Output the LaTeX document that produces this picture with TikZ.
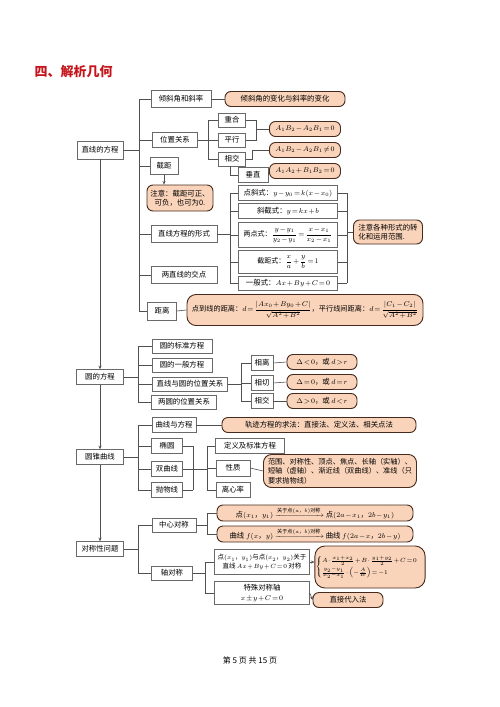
\documentclass[tikz,border=0pt]{standalone}
\usepackage{amsmath}
\usepackage{fontspec}
\usepackage{xcolor}
\usepackage{tikz}
\usetikzlibrary{arrows.meta}
\newfontfamily\cjk{Noto Sans CJK SC}
\newcommand\tightmath{\thinmuskip=1.5mu\medmuskip=1.5mu plus 1mu\thickmuskip=2mu}
\newcommand\mapfont{\cjk\fontsize{7.4}{9.4}\selectfont\tightmath}
\definecolor{titleRed}{RGB}{196,22,28}
\definecolor{boxLine}{RGB}{105,105,105}
\definecolor{linkGray}{RGB}{80,80,80}
\definecolor{noteFill}{RGB}{250,212,186}
\definecolor{noteLine}{RGB}{70,42,30}

\begin{document}
\begin{tikzpicture}[x=1pt, y=-1pt,
  box/.style={draw=boxLine, line width=0.5pt, fill=white, font=\mapfont,
    inner sep=1.5pt, minimum height=14pt},
  note/.style={draw=noteLine, line width=0.9pt, fill=noteFill, rounded corners=6pt,
    font=\mapfont, inner sep=1.5pt, minimum height=15pt},
  link/.style={draw=linkGray, line width=0.6pt},
  tip/.style={-{Stealth[length=3.5pt,width=3pt]}}]
\useasboundingbox (0,0) rectangle (500,707);

% Header
\node[anchor=west, font=\cjk\bfseries\fontsize{13}{15}\selectfont, text=titleRed]
    (title) at (31,72) {四、解析几何};

% Straight lines
\node[box, minimum width=46pt, minimum height=18pt] (line) at (100,150) {直线的方程};
\node[box, minimum width=60pt, minimum height=17pt] (tilt) at (181,99) {倾斜角和斜率};
\node[note, minimum width=120pt] (tiltNote) at (285,99) {倾斜角的变化与斜率的变化};
\node[box, minimum width=45pt, minimum height=15pt] (pos) at (175,140) {位置关系};
\node[box, minimum width=27pt] (coin) at (232,120) {重合};
\node[box, minimum width=27pt] (para) at (232,140) {平行};
\node[box, minimum width=27pt] (inter) at (232,159) {相交};
\node[box, minimum width=30pt, minimum height=15pt] (perp) at (253,175) {垂直};
\node[note, minimum width=71pt] (eq1) at (305,129) {$A_1B_2-A_2B_1=0$};
\node[note, minimum width=71pt] (eq2) at (305,150) {$A_1B_2-A_2B_1\neq0$};
\node[note, minimum width=71pt] (eq3) at (305,171) {$A_1A_2+B_1B_2=0$};
\node[box, minimum width=28pt, minimum height=17pt] (icpt) at (164,166) {截距};
\node[note, minimum width=66pt, minimum height=26pt, align=center] (icptNote) at (180,198)
    {注意：截距可正、\\可负，也可为0.};
\node[box, minimum width=66pt, minimum height=17pt] (form) at (184,234) {直线方程的形式};
\node[box, minimum width=99pt, minimum height=15pt] (f1) at (288,193) {点斜式：$y-y_0=k(x-x_0)$};
\node[box, minimum width=99pt, minimum height=15pt] (f2) at (288,211) {斜截式：$y=kx+b$};
\node[box, minimum width=99pt, minimum height=25pt, inner sep=0.5pt,
    font=\cjk\fontsize{7}{8}\selectfont\tightmath] (f3) at (288,235)
    {两点式：$\dfrac{y-y_1}{y_2-y_1}=\dfrac{x-x_1}{x_2-x_1}$};
\node[box, minimum width=99pt, minimum height=23pt, inner sep=0.5pt,
    font=\cjk\fontsize{7}{8}\selectfont\tightmath] (f4) at (288,262)
    {截距式：$\dfrac{x}{a}+\dfrac{y}{b}=1$};
\node[box, minimum width=99pt, minimum height=14pt] (f5) at (288,283) {一般式：$Ax+By+C=0$};
\node[note, minimum width=69pt, minimum height=24pt, align=left] (formNote) at (388,232)
    {注意各种形式的转\\化和运用范围.};
\node[box, minimum width=66pt, minimum height=17pt] (cross) at (184,275) {两直线的交点};
\node[box, minimum width=29pt, minimum height=18pt] (dist) at (162,311) {距离};
\node[note, minimum width=236pt, minimum height=31pt, rounded corners=9pt,
    font=\cjk\fontsize{7.2}{9}\selectfont\tightmath] (distNote) at (305,310)
    {点到线的距离：$d=\dfrac{|Ax_0+By_0+C|}{\sqrt{A^2+B^2}}$，平行线间距离：$d=\dfrac{|C_1-C_2|}{\sqrt{A^2+B^2}}$};

\coordinate (lineBus) at (139,150);
\draw[link] (line.east) -- (lineBus);
\draw[link] (lineBus |- tilt.west) -- (lineBus |- dist.west);
\foreach \n in {tilt,pos,icpt,form,cross,dist}
  \draw[link] (lineBus |- \n.west) -- (\n.west);
\draw[link] (tilt.east) -- (tiltNote.west);
\coordinate (posBus) at (208,140);
\draw[link] (pos.east) -- (posBus);
\draw[link] (posBus |- coin.west) -- (posBus |- inter.west);
\foreach \n in {coin,para,inter}
  \draw[link] (posBus |- \n.west) -- (\n.west);
\coordinate (pairBus) at (256,129);
\draw[link] (coin.east) -- (pairBus |- coin.east) -- (pairBus |- para.east) -- (para.east);
\draw[link] (pairBus |- eq1.west) -- (eq1.west);
\draw[link] (inter.east) -- ++(7,0) |- (eq2.west);
\draw[link] ([xshift=-2pt]inter.south) |- (perp.west);
\draw[link] (perp.east) -- (eq3.west);
\draw[link, tip] (icpt.south) -- (icpt.south |- icptNote.north);
\coordinate (formBus) at (230,234);
\draw[link] (form.east) -- (formBus);
\draw[link] (formBus |- f1.west) -- (formBus |- f5.west);
\coordinate (formOut) at (347,232);
\draw[link] (formOut |- f1.east) -- (formOut |- f5.east);
\foreach \n in {f1,f2,f3,f4,f5} {
  \draw[link] (formBus |- \n.west) -- (\n.west);
  \draw[link] (\n.east) -- (formOut |- \n.east);
}
\draw[link] (formOut) -- (formNote.west);
\draw[link] (dist.east) -- (distNote.west);

% Circles
\node[box, minimum width=47pt, minimum height=15pt] (circle) at (100,377) {圆的方程};
\node[box, minimum width=60pt] (std) at (182,346) {圆的标准方程};
\node[box, minimum width=60pt] (gen) at (182,365) {圆的一般方程};
\node[box, minimum width=75pt] (lc) at (190,384) {直线与圆的位置关系};
\node[box, minimum width=65pt] (cc) at (184,402) {两圆的位置关系};
\node[box, minimum width=22pt, minimum height=15pt] (sep) at (262,363) {相离};
\node[box, minimum width=22pt, minimum height=15pt] (tan) at (262,383) {相切};
\node[box, minimum width=22pt, minimum height=15pt] (sec) at (262,401) {相交};
\node[note, minimum width=70pt] (sepNote) at (322,362) {$\Delta<0$，或 $d>r$};
\node[note, minimum width=70pt] (tanNote) at (322,382) {$\Delta=0$，或 $d=r$};
\node[note, minimum width=70pt] (secNote) at (322,401) {$\Delta>0$，或 $d<r$};

\coordinate (circBus) at (138,377);
\draw[link] (circle.east) -- (circBus);
\draw[link] (circBus |- std.west) -- (circBus |- cc.west);
\foreach \n in {std,gen,lc,cc}
  \draw[link] (circBus |- \n.west) -- (\n.west);
\coordinate (lcBus) at (241,384);
\draw[link] (lc.east) -- (lcBus);
\draw[link] (lcBus |- sep.west) -- (lcBus |- sec.west);
\foreach \n in {sep,tan,sec} {
  \draw[link] (lcBus |- \n.west) -- (\n.west);
  \draw[link] (\n.east) -- (\n Note.west);
}

% Conics
\node[box, minimum width=47pt, minimum height=15pt] (conic) at (100,457) {圆锥曲线};
\node[box, minimum width=44pt, minimum height=15pt] (curve) at (174,425) {曲线与方程};
\node[box, minimum width=31pt, minimum height=15pt] (ellipse) at (167,446) {椭圆};
\node[box, minimum width=31pt, minimum height=15pt] (hyper) at (167,469) {双曲线};
\node[box, minimum width=31pt, minimum height=15pt] (parab) at (167,490) {抛物线};
\node[note, minimum width=194pt] (curveNote) at (319,425) {轨迹方程的求法：直接法、定义法、相关点法};
\node[box, minimum width=69pt, minimum height=15pt] (def) at (250,446) {定义及标准方程};
\node[box, minimum width=34pt, minimum height=16pt] (prop) at (233,468) {性质};
\node[box, minimum width=34pt, minimum height=15pt] (ecc) at (233,490) {离心率};
\node[note, minimum width=153pt, minimum height=33pt, align=left, rounded corners=8pt,
    font=\cjk\fontsize{7.2}{9.6}\selectfont] (propNote) at (340,471)
    {范围、对称性、顶点、焦点、长轴（实轴）、\\短轴（虚轴）、渐近线（双曲线）、准线（只\\要求抛物线）};

\coordinate (conicBus) at (138,457);
\draw[link] (conic.east) -- (conicBus);
\draw[link] (conicBus |- curve.west) -- (conicBus |- parab.west);
\foreach \n in {curve,ellipse,hyper,parab}
  \draw[link] (conicBus |- \n.west) -- (\n.west);
\draw[link] (curve.east) -- (curveNote.west);
\coordinate (conicOut) at (193,469);
\draw[link] (conicOut |- ellipse.east) -- (conicOut |- parab.east);
\foreach \n in {ellipse,hyper,parab}
  \draw[link] (\n.east) -- (conicOut |- \n.east);
\coordinate (propBus) at (207,469);
\draw[link] (conicOut) -- (propBus);
\draw[link] (propBus |- def.west) -- (propBus |- ecc.west);
\foreach \n in {def,prop,ecc}
  \draw[link] (propBus |- \n.west) -- (\n.west);
\draw[link] (prop.east) -- (propNote.west);

% Symmetry
\node[box, minimum width=47pt, minimum height=15pt] (sym) at (100,549) {对称性问题};
\node[box, minimum width=44pt] (central) at (174,525) {中心对称};
\node[box, minimum width=41pt] (axial) at (172,573) {轴对称};
\node[note, minimum width=196pt, minimum height=16pt] (cn1) at (315,513)
    {点$(x_1$，$y_1)$ $\xrightarrow{\text{关于点$(a$，$b)$对称}}$ 点$(2a-x_1$，$2b-y_1)$};
\node[note, minimum width=196pt, minimum height=16pt] (cn2) at (315,534)
    {曲线 $f(x$，$y)$ $\xrightarrow{\text{关于点$(a$，$b)$对称}}$ 曲线 $f(2a-x$，$2b-y)$};
\node[box, minimum width=95pt, minimum height=25pt, align=center, inner xsep=1pt,
    font=\cjk\fontsize{6.5}{8.6}\selectfont\tightmath] (ax1) at (262,562)
    {点$(x_1$，$y_1)$与点$(x_2$，$y_2)$关于\\直线 $Ax+By+C=0$ 对称};
\node[box, minimum width=95pt, minimum height=23pt, align=center] (ax2) at (262,593)
    {特殊对称轴\\$x\pm y+C=0$};
\node[note, minimum width=103pt, minimum height=42pt, rounded corners=10pt, inner xsep=1pt,
    font=\cjk\fontsize{6}{7.5}\selectfont\tightmath] (axNote) at (370,567)
    {$\begin{cases} A\cdot\frac{x_1+x_2}{2}+B\cdot\frac{y_1+y_2}{2}+C=0\\[2pt]
      \frac{y_2-y_1}{x_2-x_1}\cdot\left(-\frac{A}{B}\right)=-1\end{cases}$};
\node[note, minimum width=70pt, minimum height=15pt] (direct) at (348,600) {直接代入法};

\coordinate (symBus) at (138,549);
\draw[link] (sym.east) -- (symBus);
\draw[link] (symBus |- central.west) -- (symBus |- axial.west);
\foreach \n in {central,axial}
  \draw[link] (symBus |- \n.west) -- (\n.west);
\coordinate (cenBus) at (207,525);
\draw[link] (central.east) -- (cenBus);
\draw[link] (cenBus |- cn1.west) -- (cenBus |- cn2.west);
\foreach \n in {cn1,cn2}
  \draw[link] (cenBus |- \n.west) -- (\n.west);
\coordinate (axBus) at (205,573);
\draw[link] (axial.east) -- (axBus);
\draw[link] (axBus |- ax1.west) -- (axBus |- ax2.west);
\foreach \n in {ax1,ax2}
  \draw[link] (axBus |- \n.west) -- (\n.west);
\draw[link, tip] (ax1.east) -- (axNote.west |- ax1.east);
\draw[link, tip] (ax2.east) -- (direct.west);

% Trunk
\draw[link, tip] (line.south) -- (circle.north);
\draw[link, tip] (circle.south) -- (conic.north);
\draw[link, tip] (conic.south) -- (sym.north);

% Footer
\node[font=\cjk\fontsize{8}{10}\selectfont] (footer) at (250,660) {第 5 页 共 15 页};

\end{tikzpicture}
\end{document}
